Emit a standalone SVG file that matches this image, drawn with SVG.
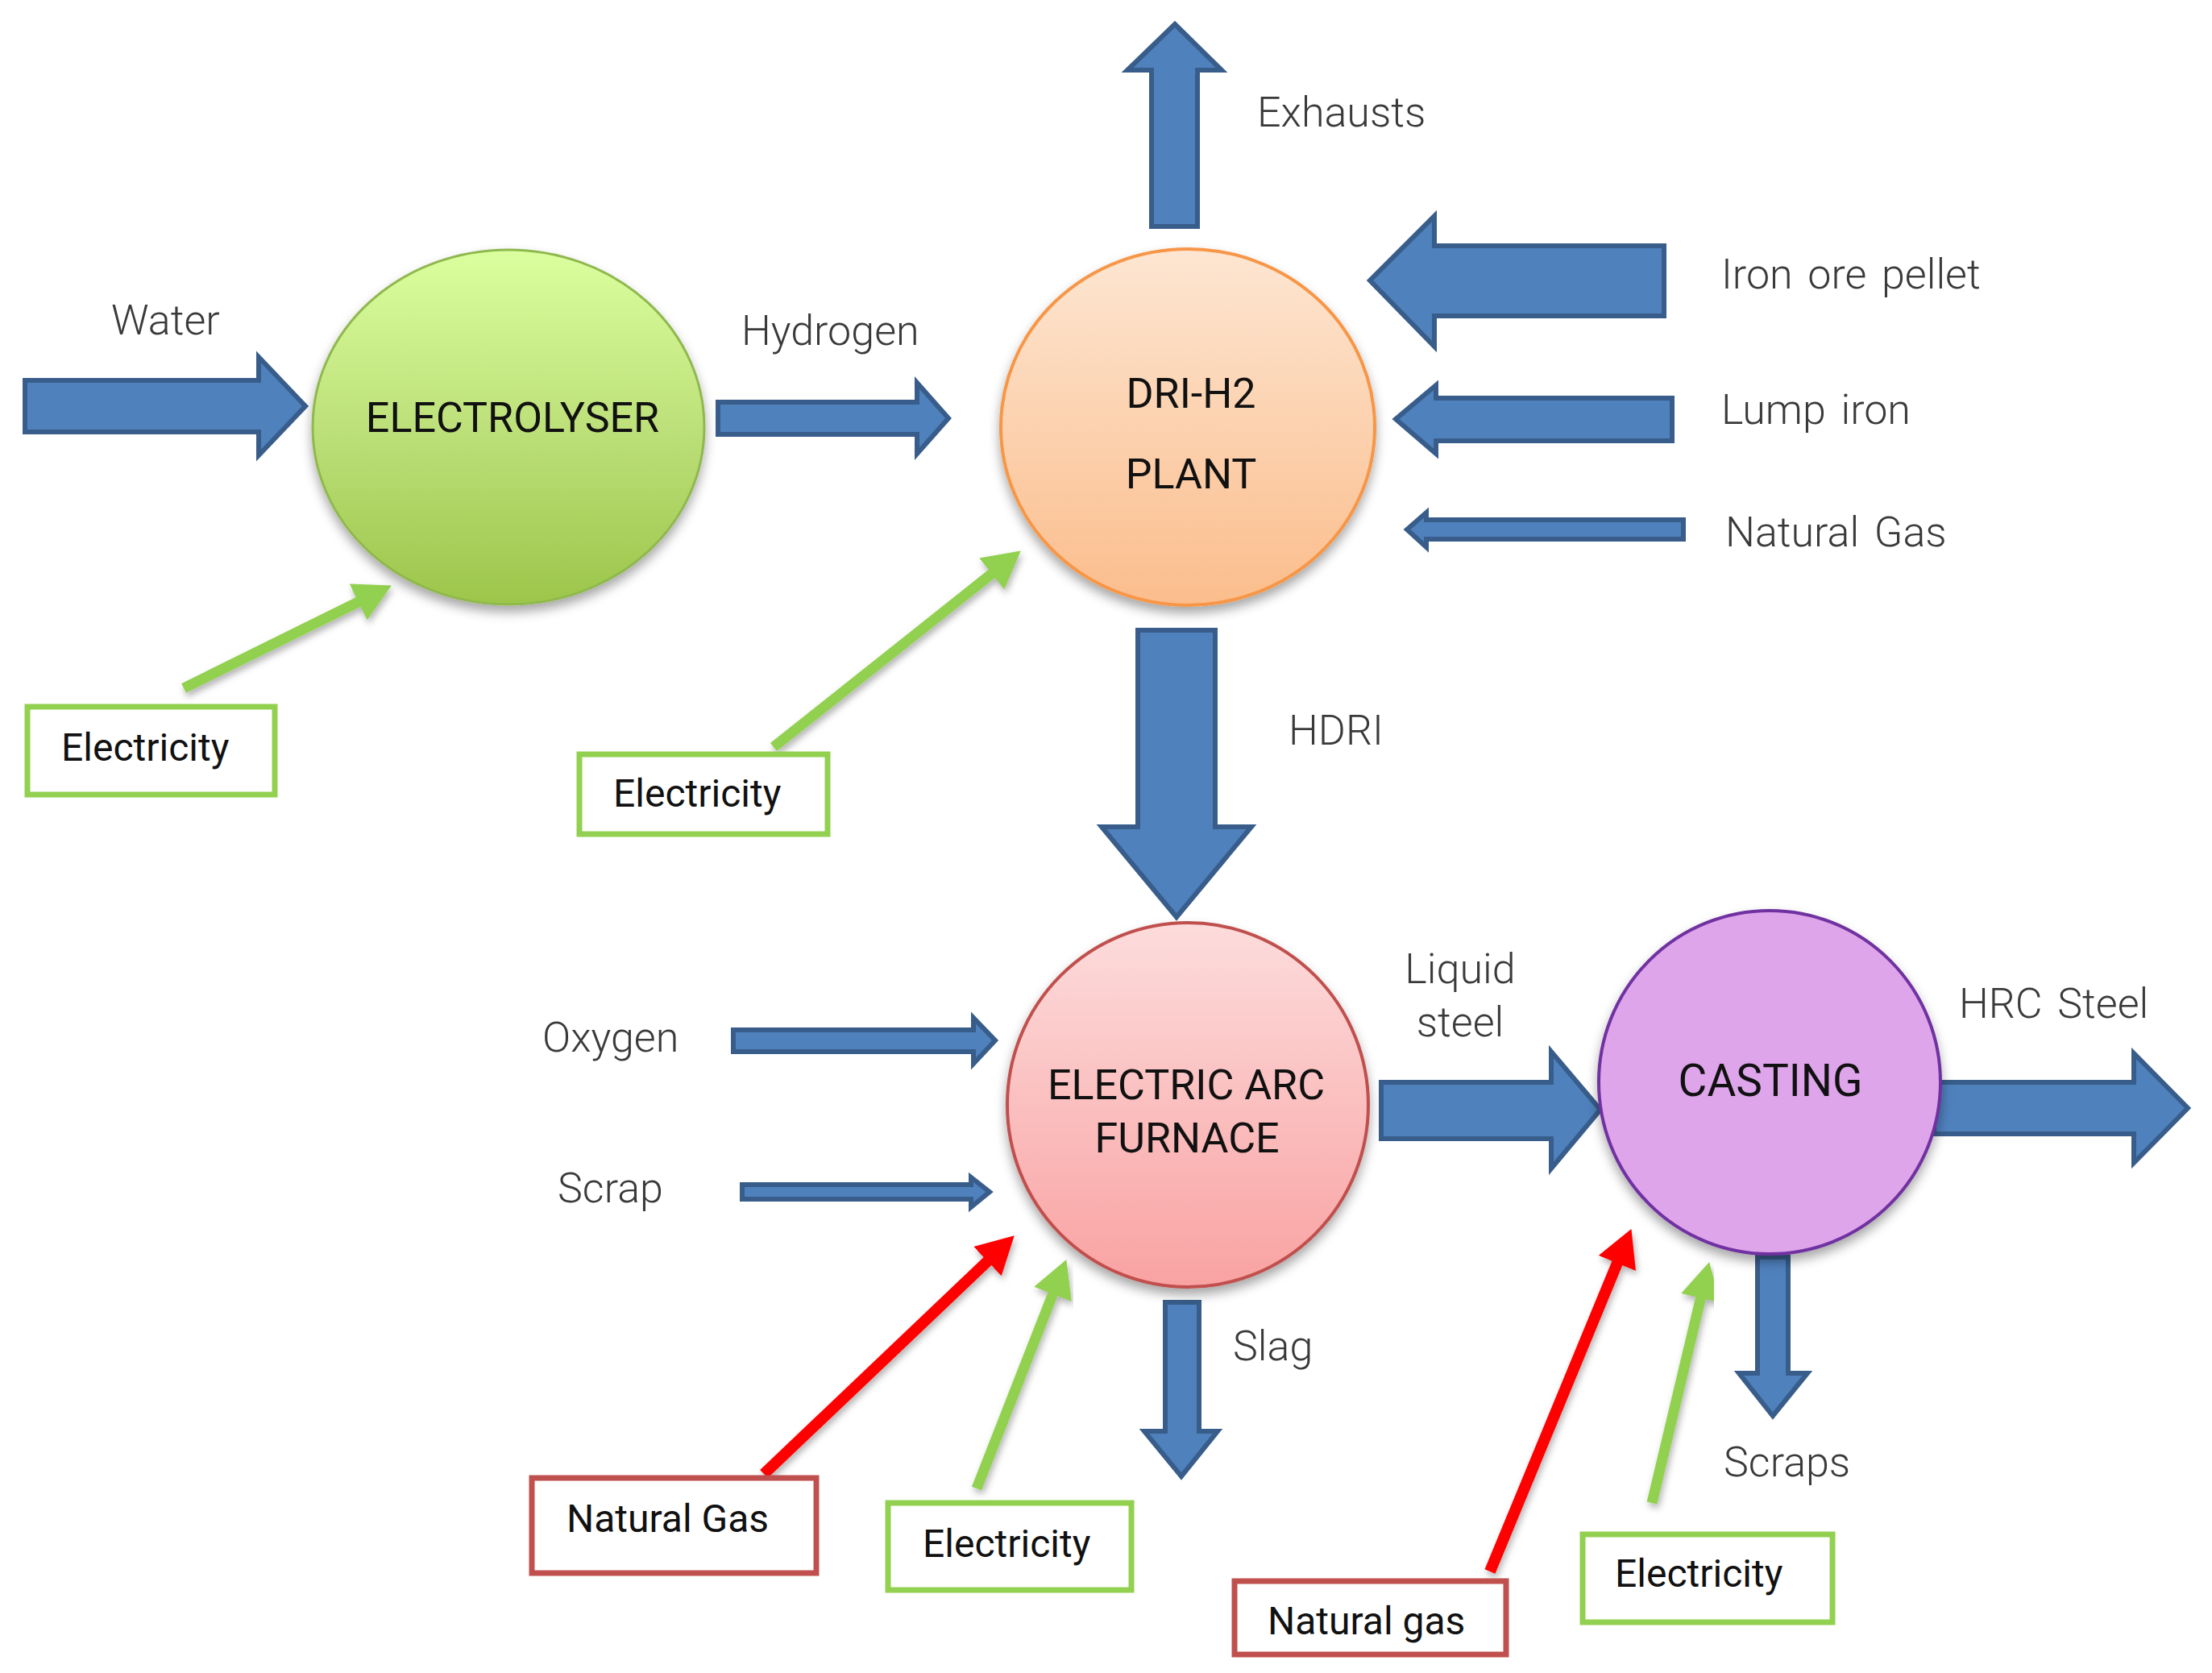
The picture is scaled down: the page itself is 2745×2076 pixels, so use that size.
<svg xmlns="http://www.w3.org/2000/svg" width="2745" height="2076" viewBox="0 0 2745 2076">
<defs>
<style>
.lbl{font-family:Roboto,"Liberation Sans",sans-serif;font-size:52px;font-weight:300;fill:#3a3a3a;word-spacing:6px}
.ntx{font-family:Roboto,"Liberation Sans",sans-serif;font-size:52px;fill:#111111;text-anchor:middle}
.btx{font-family:Roboto,"Liberation Sans",sans-serif;font-size:48px;fill:#111111}
.blk{fill:#4f81bd;stroke:#385d8a;stroke-width:6;stroke-linejoin:miter}
.gbox{fill:#ffffff;stroke:#92d050;stroke-width:7}
.rbox{fill:#ffffff;stroke:#c0504d;stroke-width:7}
.garr{stroke:#92d050;stroke-width:13;fill:none}
.rarr{stroke:#ff0000;stroke-width:14;fill:none}
</style>
<linearGradient id="gEl" x1="0" y1="0" x2="0" y2="1">
<stop offset="0" stop-color="#dbff9e"/><stop offset="0.5" stop-color="#bde07a"/><stop offset="1" stop-color="#9cc64a"/>
</linearGradient>
<linearGradient id="gDri" x1="0" y1="0" x2="0" y2="1">
<stop offset="0" stop-color="#fde6d2"/><stop offset="1" stop-color="#fbbd8c"/>
</linearGradient>
<linearGradient id="gEaf" x1="0" y1="0" x2="0" y2="1">
<stop offset="0" stop-color="#fddcdc"/><stop offset="1" stop-color="#f9a2a2"/>
</linearGradient>
<filter id="sh" x="-20%" y="-20%" width="140%" height="150%">
<feDropShadow dx="0" dy="8" stdDeviation="7" flood-color="#000000" flood-opacity="0.35"/>
</filter>
<filter id="sh2" x="-20%" y="-20%" width="140%" height="140%">
<feDropShadow dx="2" dy="5" stdDeviation="4" flood-color="#000000" flood-opacity="0.3"/>
</filter>
<marker id="mg" markerUnits="userSpaceOnUse" markerWidth="50" markerHeight="52" refX="15" refY="25" orient="auto">
<path d="M0,0 L46,25 L0,50 z" fill="#92d050"/>
</marker>
<marker id="mr" markerUnits="userSpaceOnUse" markerWidth="50" markerHeight="52" refX="15" refY="25" orient="auto">
<path d="M0,0 L46,25 L0,50 z" fill="#ff0000"/>
</marker>
</defs>
<rect width="2745" height="2076" fill="#ffffff"/>

<g id="connectors">
<polygon id="c-water" class="blk" points="31,472 321,472 321,443 379,504 321,565 321,536 31,536"/>
<polygon id="c-hydrogen" class="blk" points="891,499 1138,499 1138,475 1177,519 1138,563 1138,539 891,539"/>
<polygon id="c-exhausts" class="blk" points="1429,281 1429,87 1399,87 1458,30 1516,87 1486,87 1486,281"/>
<polygon id="c-ironore" class="blk" points="2065,305 1780,305 1780,268 1700,348 1780,430 1780,392 2065,392"/>
<polygon id="c-lump" class="blk" points="2075,494 1782,494 1782,478 1732,520 1782,563 1782,547 2075,547"/>
<polygon id="c-ng1" class="blk" points="2089,645 1770,645 1770,636 1746,657 1770,679 1770,669 2089,669"/>
<polygon id="c-hdri" class="blk" points="1412,782 1508,782 1508,1026 1553,1026 1460,1138 1367,1026 1412,1026"/>
<polygon id="c-oxygen" class="blk" points="910,1278 1208,1278 1208,1263 1235,1291 1208,1320 1208,1305 910,1305"/>
<polygon id="c-scrap" class="blk" points="921,1470 1205,1470 1205,1461 1228,1479 1205,1498 1205,1488 921,1488"/>
<polygon id="c-slag" class="blk" points="1446,1616 1488,1616 1488,1776 1511,1776 1466,1832 1420,1776 1446,1776"/>
<polygon id="c-liquid" class="blk" points="1714,1343 1925,1343 1925,1305 1986,1377 1925,1450 1925,1413 1714,1413"/>
<polygon id="c-hrc" class="blk" points="2400,1343 2648,1343 2648,1307 2715,1375 2648,1443 2648,1407 2400,1407"/>
<polygon id="c-scraps" class="blk" points="2181,1560 2219,1560 2219,1704 2243,1704 2200,1757 2158,1704 2181,1704"/>
<line id="c-el1" class="garr" x1="228" y1="854" x2="458.1" y2="740.3" marker-end="url(#mg)" filter="url(#sh2)"/>
<line id="c-el2" class="garr" x1="960" y1="927" x2="1242.5" y2="702.7" marker-end="url(#mg)" filter="url(#sh2)"/>
<line id="c-el3" class="garr" x1="1212" y1="1847" x2="1312" y2="1591.9" marker-end="url(#mg)" filter="url(#sh2)"/>
<line id="c-el4" class="garr" x1="2050" y1="1865" x2="2114" y2="1596.2" marker-end="url(#mg)" filter="url(#sh2)"/>
<line id="c-ng2" class="rarr" x1="948" y1="1829" x2="1236.3" y2="1554.7" marker-end="url(#mr)" filter="url(#sh2)"/>
<line id="c-ng3" class="rarr" x1="1849" y1="1950" x2="2012.6" y2="1553.7" marker-end="url(#mr)" filter="url(#sh2)"/>
</g>

<g id="labels">
<text class="lbl" x="138" y="415">Water</text>
<text class="lbl" x="920" y="428">Hydrogen</text>
<text class="lbl" x="1560" y="157">Exhausts</text>
<text class="lbl" x="2136" y="358">Iron ore pellet</text>
<text class="lbl" x="2136" y="526">Lump iron</text>
<text class="lbl" x="2141" y="678">Natural Gas</text>
<text class="lbl" x="1599" y="924">HDRI</text>
<text class="lbl" x="673" y="1305">Oxygen</text>
<text class="lbl" x="692" y="1492">Scrap</text>
<text class="lbl" x="1530" y="1688">Slag</text>
<text class="lbl" x="1812" y="1220" text-anchor="middle">Liquid</text>
<text class="lbl" x="1812" y="1286" text-anchor="middle">steel</text>
<text class="lbl" x="2431" y="1263">HRC Steel</text>
<text class="lbl" x="2139" y="1832">Scraps</text>
</g>

<g id="node-electrolyser">
<ellipse cx="631" cy="530" rx="243" ry="220" fill="url(#gEl)" stroke="#8fb84e" stroke-width="3" filter="url(#sh)"/>
<text class="ntx" x="636" y="536">ELECTROLYSER</text>
</g>
<g id="node-dri">
<ellipse cx="1474" cy="530" rx="232" ry="221" fill="url(#gDri)" stroke="#f79646" stroke-width="4" filter="url(#sh)"/>
<text class="ntx" x="1478" y="506">DRI-H2</text>
<text class="ntx" x="1478" y="606">PLANT</text>
</g>
<g id="node-eaf">
<ellipse cx="1474" cy="1371" rx="224" ry="226" fill="url(#gEaf)" stroke="#c0504d" stroke-width="4" filter="url(#sh)"/>
<text class="ntx" x="1472" y="1364">ELECTRIC ARC</text>
<text class="ntx" x="1473" y="1430">FURNACE</text>
</g>
<g id="node-casting">
<ellipse cx="2196" cy="1343" rx="212" ry="213" fill="#dea5eb" stroke="#7030a0" stroke-width="4" filter="url(#sh)"/>
<text class="ntx" x="2197" y="1360" style="font-size:55px">CASTING</text>
</g>

<g id="node-elec1">
<rect class="gbox" x="34" y="877" width="307" height="109"/>
<text class="btx" x="76" y="944">Electricity</text>
</g>
<g id="node-elec2">
<rect class="gbox" x="719" y="936" width="308" height="99"/>
<text class="btx" x="761" y="1001">Electricity</text>
</g>
<g id="node-ng1">
<rect class="rbox" x="660" y="1834" width="353" height="118"/>
<text class="btx" x="703" y="1901">Natural Gas</text>
</g>
<g id="node-elec3">
<rect class="gbox" x="1102" y="1865" width="302" height="108"/>
<text class="btx" x="1145" y="1932">Electricity</text>
</g>
<g id="node-ng2">
<rect class="rbox" x="1532" y="1962" width="337" height="91"/>
<text class="btx" x="1573" y="2028">Natural gas</text>
</g>
<g id="node-elec4">
<rect class="gbox" x="1964" y="1904" width="310" height="109"/>
<text class="btx" x="2004" y="1969">Electricity</text>
</g>
</svg>
